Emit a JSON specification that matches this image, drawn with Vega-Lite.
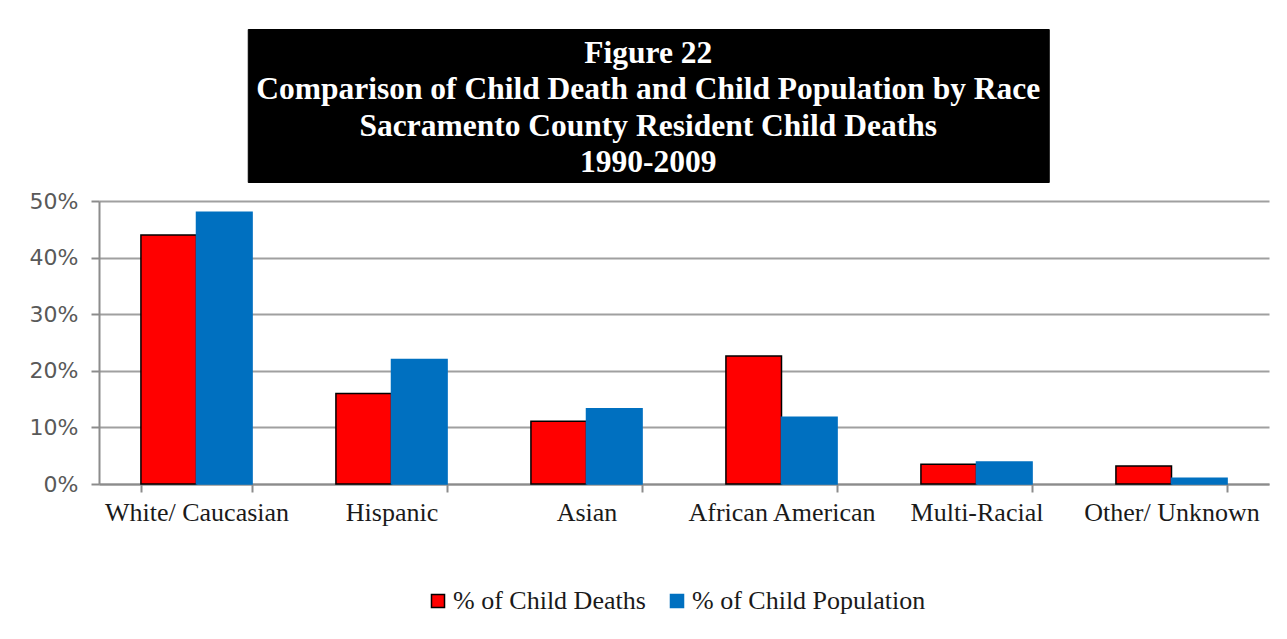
{
  "$schema": "https://vega.github.io/schema/vega-lite/v6.json",
  "background": "white",
  "padding": {"left": 29, "top": 28, "right": 19, "bottom": 10},
  "spacing": 7,
  "center": true,
  "config": {"view": {"stroke": null}, "font": "Liberation Serif"},
  "vconcat": [
    {
      "width": 801,
      "height": 153,
      "view": {"fill": "black", "stroke": "black"},
      "data": {"values": [
        {"line": 1, "text": "Figure 22"},
        {"line": 2, "text": "Comparison  of Child  Death and Child  Population  by Race"},
        {"line": 3, "text": "Sacramento  County Resident Child  Deaths"},
        {"line": 4, "text": "1990-2009"}
      ]},
      "mark": {"type": "text", "color": "white", "font": "Liberation Serif", "fontWeight": "bold", "fontSize": 31.5, "baseline": "middle", "align": "center", "dy": 3},
      "encoding": {
        "y": {"field": "line", "type": "ordinal", "scale": {"padding": 0.62},
          "axis": {"orient": "right", "title": null, "labelColor": "white", "ticks": false, "domain": false, "grid": false, "minExtent": 71, "maxExtent": 71}},
        "text": {"field": "text"}
      }
    },
    {
      "width": 1170,
      "height": 283,
      "data": {"values": [
        {"race": "White/ Caucasian", "series": "% of Child Deaths", "value": 0.44},
        {"race": "White/ Caucasian", "series": "% of  Child Population", "value": 0.48},
        {"race": "Hispanic", "series": "% of Child Deaths", "value": 0.16},
        {"race": "Hispanic", "series": "% of  Child Population", "value": 0.22},
        {"race": "Asian", "series": "% of Child Deaths", "value": 0.111},
        {"race": "Asian", "series": "% of  Child Population", "value": 0.133},
        {"race": "African American", "series": "% of Child Deaths", "value": 0.226},
        {"race": "African American", "series": "% of  Child Population", "value": 0.118},
        {"race": "Multi-Racial", "series": "% of Child Deaths", "value": 0.035},
        {"race": "Multi-Racial", "series": "% of  Child Population", "value": 0.039},
        {"race": "Other/ Unknown", "series": "% of Child Deaths", "value": 0.032},
        {"race": "Other/ Unknown", "series": "% of  Child Population", "value": 0.01}
      ]},
      "mark": {"type": "bar", "strokeWidth": 1.5},
      "encoding": {
        "x": {
          "field": "race", "type": "nominal", "sort": null,
          "scale": {"paddingInner": 0.43, "paddingOuter": 0.215},
          "axis": {"title": null, "labelAngle": 0, "labelFont": "Liberation Serif", "labelFontSize": 26, "labelColor": "#1a1a1a", "domainColor": "#8c8c8c", "domainWidth": 2, "tickColor": "#8c8c8c", "tickWidth": 2, "tickSize": 8, "tickBand": "extent", "labelPadding": 7, "labelLimit": 300}
        },
        "xOffset": {"field": "series", "type": "nominal", "sort": null, "scale": {"paddingInner": 0, "paddingOuter": 0}},
        "y": {
          "field": "value", "type": "quantitative", "scale": {"domain": [0, 0.5]},
          "axis": {"title": null, "format": ".0%", "values": [0, 0.1, 0.2, 0.3, 0.4, 0.5], "labelFont": "DejaVu Sans", "labelFontSize": 22, "labelColor": "#595959", "labelPadding": 13, "domainColor": "#8c8c8c", "domainWidth": 2, "tickColor": "#8c8c8c", "tickWidth": 2, "tickSize": 8, "gridColor": "#a0a0a0", "gridWidth": 2}
        },
        "color": {
          "field": "series", "type": "nominal", "sort": null,
          "scale": {"domain": ["% of Child Deaths", "% of  Child Population"], "range": ["#FF0000", "#0070C0"]},
          "legend": {"title": null, "orient": "none", "legendX": 326, "legendY": 559, "direction": "horizontal", "labelFont": "Liberation Serif", "labelFontSize": 26, "labelColor": "#1a1a1a", "symbolType": "square", "symbolSize": 170, "symbolStrokeWidth": 1.5, "columnPadding": 18, "labelOffset": 2, "labelLimit": 400}
        },
        "stroke": {
          "field": "series", "type": "nominal", "sort": null,
          "scale": {"domain": ["% of Child Deaths", "% of  Child Population"], "range": ["#000000", "#0070C0"]},
          "legend": {"title": null, "orient": "none", "legendX": 326, "legendY": 559, "direction": "horizontal", "labelFont": "Liberation Serif", "labelFontSize": 26, "labelColor": "#1a1a1a", "symbolType": "square", "symbolSize": 170, "symbolStrokeWidth": 1.5, "columnPadding": 18, "labelOffset": 2, "labelLimit": 400}
        }
      }
    }
  ]
}
